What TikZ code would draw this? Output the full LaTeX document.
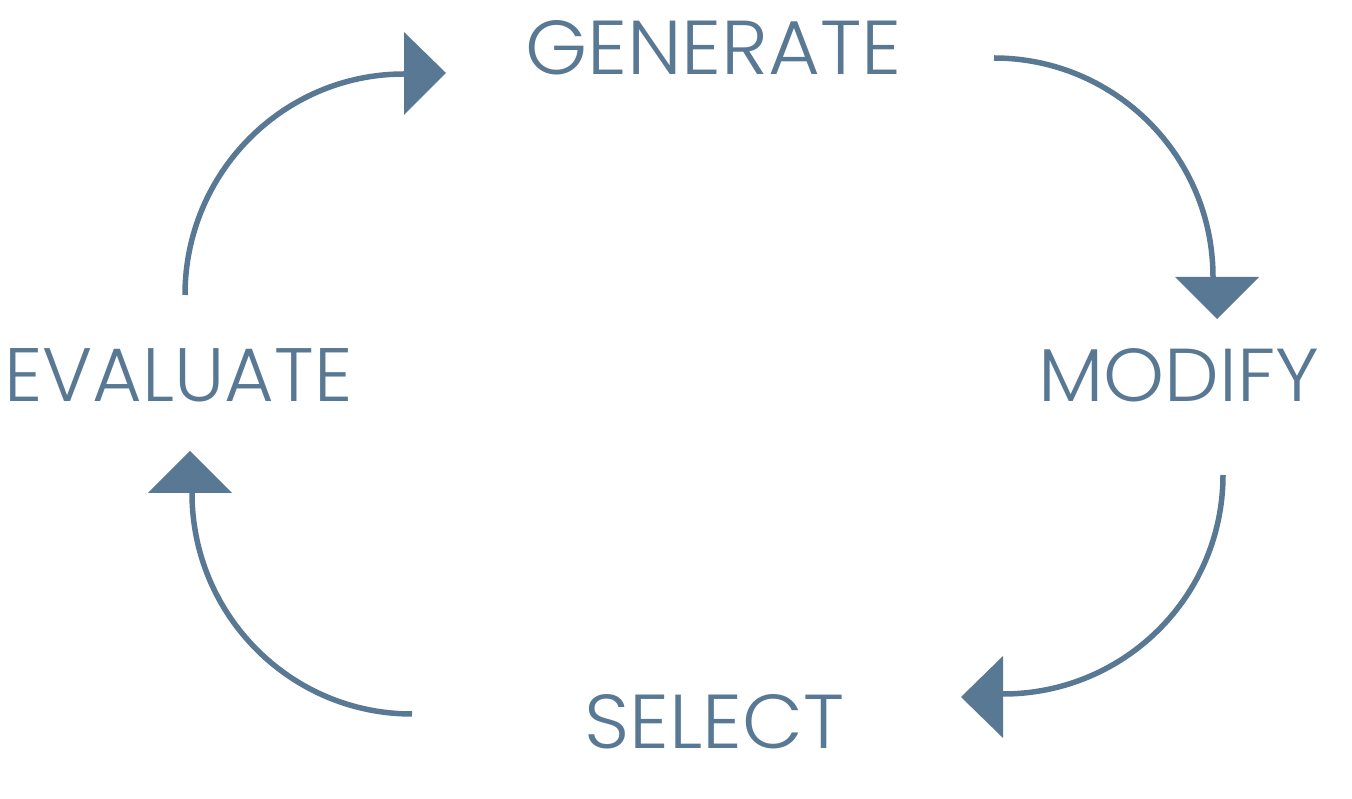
\documentclass[tikz,border=0pt]{standalone}
\usepackage{fontspec}
\setmainfont{Poppins Light}
\usepackage{graphicx}
\definecolor{steel}{RGB}{88,120,148}
\begin{document}
\begin{tikzpicture}[x=0.02cm,y=0.02cm,
  lbl/.style={inner sep=0pt,outer sep=0pt,text=steel,anchor=center},
  arcline/.style={draw=steel,line width=0.11cm},
  headfill/.style={fill=steel,draw=none}]
\useasboundingbox (0,0) rectangle (1352,798);
% labels
\node[lbl] (gen) at (713.5,750.5) {\resizebox{7.54cm}{1.08cm}{GENERATE}};
\node[lbl] (eva) at (178.5,422.5) {\resizebox{6.96cm}{1.06cm}{EVALUATE}};
\node[lbl] (mod) at (1179,422.5) {\resizebox{5.62cm}{1.06cm}{MODIFY}};
\node[lbl] (sel) at (714.5,76) {\resizebox{5.2cm}{1.08cm}{SELECT}};
% arrow 1: evaluate -> generate
\coordinate (a1s) at (185,503);
\draw[arcline] (a1s) arc[start angle=180,end angle=90,x radius=219,y radius=221] coordinate (a1e);
\fill[headfill] (404,766) -- (404,683) -- (446,725) -- cycle;
% arrow 2: generate -> modify
\coordinate (a2s) at (994,740);
\draw[arcline] (a2s) arc[start angle=90,end angle=0,x radius=219,y radius=219] coordinate (a2e);
\fill[headfill] (1175,521) -- (1259,521) -- (1217,479) -- cycle;
% arrow 3: modify -> select
\coordinate (a3s) at (1223,323);
\draw[arcline] (a3s) arc[start angle=0,end angle=-90,x radius=220,y radius=219] coordinate (a3e);
\fill[headfill] (1003,142) -- (1003,60) -- (961,101) -- cycle;
% arrow 4: select -> evaluate
\coordinate (a4s) at (412,84);
\draw[arcline] (a4s) arc[start angle=270,end angle=180,x radius=220,y radius=221] coordinate (a4e);
\fill[headfill] (148,305) -- (232,305) -- (190,347) -- cycle;
\end{tikzpicture}
\end{document}
